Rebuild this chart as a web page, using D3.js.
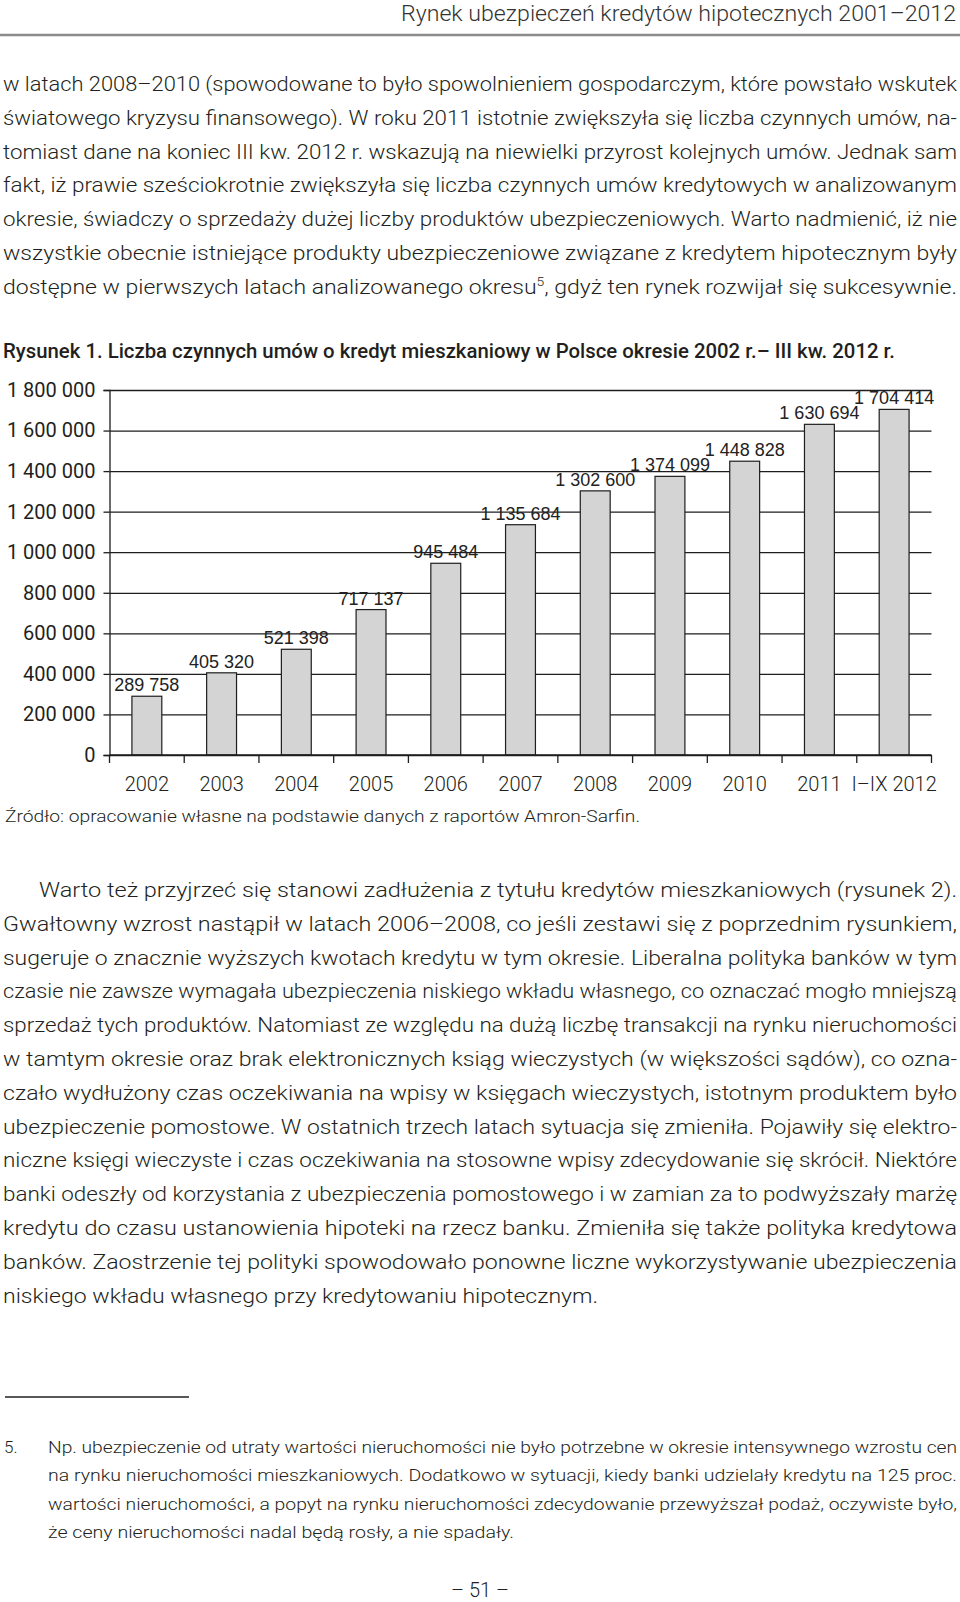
<!DOCTYPE html>
<html>
<head>
<meta charset="utf-8">
<script src="https://cdn.jsdelivr.net/npm/d3@7/dist/d3.min.js"></script>
<style>
body{margin:0;background:#fff;}
svg{display:block;}
.txt{font-family:Roboto, "Noto Sans", sans-serif;font-weight:300;font-size:20px;fill:#231f20;}
.small{font-size:17px;}
.title{font-family:Roboto, sans-serif;font-weight:500;font-size:20px;fill:#231f20;}
.head{font-family:Roboto, sans-serif;font-weight:300;font-size:22px;fill:#333;}
.val{font-family:"Liberation Sans", Arial, sans-serif;font-size:18px;fill:#222;}
.ylab{font-family:Roboto, sans-serif;font-size:20px;fill:#231f20;}
.xlab{font-family:Roboto, sans-serif;font-weight:300;font-size:20px;fill:#231f20;}
</style>
</head>
<body>
<script>
//chart data
var years = ["2002","2003","2004","2005","2006","2007","2008","2009","2010","2011","I\u2013IX 2012"];
var contracts = [289758, 405320, 521398, 717137, 945484, 1135684, 1302600, 1374099, 1448828, 1630694, 1704414];
var yTicks = [0, 200000, 400000, 600000, 800000, 1000000, 1200000, 1400000, 1600000, 1800000];

//page text, one entry per printed line
var para1 = [
    "w latach 2008\u20132010 (spowodowane to było spowolnieniem gospodarczym, które powstało wskutek",
    "światowego kryzysu finansowego). W roku 2011 istotnie zwiększyła się liczba czynnych umów, na-",
    "tomiast dane na koniec III kw. 2012 r. wskazują na niewielki przyrost kolejnych umów. Jednak sam",
    "fakt, iż prawie sześciokrotnie zwiększyła się liczba czynnych umów kredytowych w analizowanym",
    "okresie, świadczy o sprzedaży dużej liczby produktów ubezpieczeniowych. Warto nadmienić, iż nie",
    "wszystkie obecnie istniejące produkty ubezpieczeniowe związane z kredytem hipotecznym były",
    ["dostępne w pierwszych latach analizowanego okresu", "5", ", gdyż ten rynek rozwijał się sukcesywnie."]
];
var para2 = [
    "Warto też przyjrzeć się stanowi zadłużenia z tytułu kredytów mieszkaniowych (rysunek 2).",
    "Gwałtowny wzrost nastąpił w latach 2006\u20132008, co jeśli zestawi się z poprzednim rysunkiem,",
    "sugeruje o znacznie wyższych kwotach kredytu w tym okresie. Liberalna polityka banków w tym",
    "czasie nie zawsze wymagała ubezpieczenia niskiego wkładu własnego, co oznaczać mogło mniejszą",
    "sprzedaż tych produktów. Natomiast ze względu na dużą liczbę transakcji na rynku nieruchomości",
    "w tamtym okresie oraz brak elektronicznych ksiąg wieczystych (w większości sądów), co ozna-",
    "czało wydłużony czas oczekiwania na wpisy w księgach wieczystych, istotnym produktem było",
    "ubezpieczenie pomostowe. W ostatnich trzech latach sytuacja się zmieniła. Pojawiły się elektro-",
    "niczne księgi wieczyste i czas oczekiwania na stosowne wpisy zdecydowanie się skrócił. Niektóre",
    "banki odeszły od korzystania z ubezpieczenia pomostowego i w zamian za to podwyższały marżę",
    "kredytu do czasu ustanowienia hipoteki na rzecz banku. Zmieniła się także polityka kredytowa",
    "banków. Zaostrzenie tej polityki spowodowało ponowne liczne wykorzystywanie ubezpieczenia",
    "niskiego wkładu własnego przy kredytowaniu hipotecznym."
];
var footnote = [
    "Np. ubezpieczenie od utraty wartości nieruchomości nie było potrzebne w okresie intensywnego wzrostu cen",
    "na rynku nieruchomości mieszkaniowych. Dodatkowo w sytuacji, kiedy banki udzielały kredytu na 125 proc.",
    "wartości nieruchomości, a popyt na rynku nieruchomości zdecydowanie przewyższał podaż, oczywiste było,",
    "że ceny nieruchomości nadal będą rosły, a nie spadały."
];

drawPage();

function drawPage(){
    var width = 960, height = 1602;
    var svg = d3.select("body").append("svg")
        .attr("width", width)
        .attr("height", height);
    svg.append("rect").attr("width", width).attr("height", height).attr("fill", "#fff");

    //write one line of text, stretched to the printed width
    function addLine(parts, x, y, w, cls){
        var t = svg.append("text").attr("class", cls).attr("x", x).attr("y", y);
        if (w) t.attr("textLength", w).attr("lengthAdjust", "spacingAndGlyphs");
        if (typeof parts == "string"){
            t.text(parts);
        } else {
            parts.forEach(function(p, i){
                var s = t.append("tspan").text(p);
                if (i % 2 == 1) s.attr("dy", -8).attr("font-size", "12px");
                else if (i > 0) s.attr("dy", 8);
            });
        }
        return t;
    }

    //running head
    addLine("Rynek ubezpieczeń kredytów hipotecznych 2001\u20132012", 401, 21, 555, "head");
    svg.append("line").attr("x1", 0).attr("x2", 960).attr("y1", 35).attr("y2", 35)
        .attr("stroke", "#8c8c8c").attr("stroke-width", 2.5);

    //first paragraph
    var lead = 33.8;
    para1.forEach(function(l, i){
        addLine(l, 3, 91 + i * lead, 954, "txt");
    });

    //figure title
    addLine("Rysunek 1. Liczba czynnych umów o kredyt mieszkaniowy w Polsce okresie 2002 r.\u2013 III kw. 2012 r.", 3, 358, 892, "title");

    //chart frame
    var plotLeft = 109.5, plotRight = 931.5, plotTop = 390, plotBottom = 755;

    var x = d3.scaleBand()
        .domain(years)
        .range([plotLeft, plotRight])
        .padding(0);

    var y = d3.scaleLinear()
        .domain([0, 1800000])
        .range([plotBottom, plotTop]);

    var fmt = function(d){ return d3.format(",")(d).replace(/,/g, " "); };

    //gridlines
    svg.append("g")
        .attr("transform", "translate(" + plotLeft + ",0)")
        .call(d3.axisLeft(y).tickValues(yTicks).tickSize(-(plotRight - plotLeft)).tickFormat(""))
        .call(function(g){
            g.select(".domain").remove();
            g.selectAll("line").attr("stroke", "#1e1e1e").attr("stroke-width", 1.3);
        });

    //y axis with labels
    svg.append("g")
        .attr("transform", "translate(" + plotLeft + ",0)")
        .call(d3.axisLeft(y).tickValues(yTicks).tickSize(6).tickPadding(8).tickFormat(fmt))
        .call(function(g){
            g.attr("font-size", null).attr("font-family", null);
            g.select(".domain").attr("stroke", "#1e1e1e").attr("stroke-width", 1.3);
            g.selectAll("line").attr("stroke", "#1e1e1e").attr("stroke-width", 1.3);
            g.selectAll("text").attr("class", "ylab").attr("fill", null);
        });

    //bars
    var bw = x.bandwidth();
    svg.selectAll(".bar")
        .data(contracts)
        .enter()
        .append("rect")
        .attr("class", "bar")
        .attr("x", function(d, i){ return x(years[i]) + bw * 0.3; })
        .attr("y", function(d){ return y(d); })
        .attr("width", bw * 0.4)
        .attr("height", function(d){ return y(0) - y(d); })
        .attr("fill", "#d4d4d4")
        .attr("stroke", "#1e1e1e")
        .attr("stroke-width", 1.2);

    //value labels
    svg.selectAll(".val")
        .data(contracts)
        .enter()
        .append("text")
        .attr("class", "val")
        .attr("text-anchor", "middle")
        .attr("x", function(d, i){ return x(years[i]) + bw / 2; })
        .attr("y", function(d){ return y(d) - 5; })
        .text(fmt);

    //x axis line and ticks at band edges
    svg.append("line")
        .attr("x1", plotLeft).attr("x2", plotRight).attr("y1", y(0)).attr("y2", y(0))
        .attr("stroke", "#1e1e1e").attr("stroke-width", 1.3);
    var edges = years.map(function(c){ return x(c); }).concat([plotRight]);
    svg.selectAll(".xtick")
        .data(edges)
        .enter()
        .append("line")
        .attr("class", "xtick")
        .attr("x1", function(d){ return d; }).attr("x2", function(d){ return d; })
        .attr("y1", y(0)).attr("y2", y(0) + 8)
        .attr("stroke", "#1e1e1e").attr("stroke-width", 1.3);

    svg.selectAll(".xlab")
        .data(years)
        .enter()
        .append("text")
        .attr("class", "xlab")
        .attr("text-anchor", "middle")
        .attr("x", function(d){ return x(d) + bw / 2; })
        .attr("y", 791)
        .text(function(d){ return d; });

    //source
    addLine("Źródło: opracowanie własne na podstawie danych z raportów Amron-Sarfin.", 5, 822, 635, "txt small");

    //second paragraph
    para2.forEach(function(l, i){
        var x0 = i == 0 ? 39 : 3;
        var w = i == 0 ? 918 : (i == para2.length - 1 ? 595 : 954);
        addLine(l, x0, 897 + i * lead, w, "txt");
    });

    //footnote
    svg.append("line").attr("x1", 5).attr("x2", 189).attr("y1", 1397).attr("y2", 1397)
        .attr("stroke", "#231f20").attr("stroke-width", 1.5);
    addLine("5.", 4, 1453, null, "txt small");
    footnote.forEach(function(l, i){
        addLine(l, 48, 1453 + i * 28.4, i == footnote.length - 1 ? 466 : 909, "txt small");
    });

    //page number
    addLine("\u2013 51 \u2013", 480, 1597, null, "txt").attr("text-anchor", "middle");
}
</script>
</body>
</html>
